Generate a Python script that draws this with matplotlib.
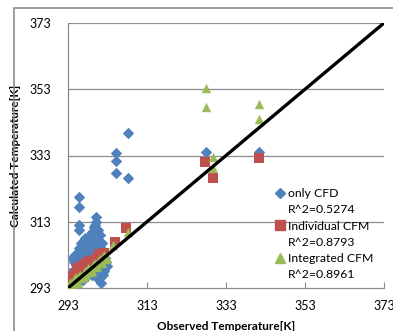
import matplotlib
matplotlib.use("Agg")
import matplotlib.pyplot as plt
from matplotlib.lines import Line2D
from matplotlib.patches import Rectangle

plt.rcParams['font.family'] = ['Lato', 'DejaVu Sans']

# ---- data ----
cfd_obs = [308.3, 305.2, 305.2, 305.2, 308.2, 295.9, 295.9, 295.9, 295.9, 295.9, 294.8,
           327.9, 341.4, 300.1, 300.1, 299.5, 299.0, 298.5, 298.0, 297.5, 297.0, 296.5,
           301.0, 301.5, 302.0, 300.5, 299.8, 298.8, 297.8, 296.8, 295.5, 295.0, 294.5,
           294.0, 293.5, 301.3, 300.3, 299.5, 298.2, 297.2, 296.2, 302.5, 300.8, 299.2,
           297.6, 296.0, 294.3, 295.3, 300.0, 301.8,
           299.8, 300.6, 299.3, 298.6, 298.0, 297.4, 296.9, 296.3, 295.7, 295.2, 294.6,
           294.1, 293.6, 301.2, 302.3, 301.6, 300.9, 300.2, 299.6, 298.9, 298.3, 297.7,
           297.1, 296.6, 295.9, 295.4, 294.9, 294.4, 302.8, 301.9, 300.4, 299.1, 297.9,
           296.7, 295.6, 294.2, 293.8, 302.0, 300.7, 299.9]
cfd_calc = [339.9, 333.7, 331.3, 327.7, 326.2, 320.6, 317.5, 312.0, 310.5, 305.1, 303.0,
            334.2, 334.2, 314.5, 313.0, 311.5, 310.0, 308.5, 307.5, 306.5, 305.0, 303.5,
            309.0, 306.5, 304.0, 304.0, 302.5, 304.5, 303.0, 301.5, 300.0, 298.5, 297.0,
            295.5, 294.0, 294.4, 296.0, 299.0, 300.0, 298.5, 297.5, 301.0, 300.5, 302.0,
            301.0, 296.0, 295.0, 296.5, 307.0, 303.0,
            312.0, 310.5, 309.5, 309.0, 306.0, 308.0, 304.0, 306.5, 302.5, 303.5, 301.0,
            302.0, 297.5, 305.5, 302.0, 300.0, 301.5, 298.0, 305.0, 303.0, 301.5, 304.5,
            302.0, 300.5, 303.0, 301.0, 300.0, 298.5, 299.5, 297.0, 297.5, 297.0, 296.5,
            295.5, 294.5, 293.5, 296.5, 298.0, 299.0, 307.0]

ind_obs = [293.1, 293.5, 294.0, 294.5, 295.2, 296.0, 297.0, 298.0, 298.6, 299.5, 300.5,
           301.5, 302.2, 304.9, 307.6, 327.7, 329.8, 341.4, 293.3, 294.8, 296.5, 297.8,
           295.6, 296.8, 297.5, 298.3, 299.0, 299.8, 300.9, 301.8, 293.7, 294.3]
ind_calc = [294.5, 295.5, 296.0, 297.0, 299.0, 298.5, 299.5, 299.0, 300.0, 301.5, 302.0,
            303.0, 303.5, 307.0, 311.0, 331.1, 326.1, 332.2, 293.5, 296.5, 297.5, 300.8,
            297.8, 299.8, 298.8, 300.5, 301.2, 300.8, 303.2, 302.2, 295.0, 296.4]

int_obs = [293.2, 293.8, 294.3, 294.8, 295.3, 295.8, 296.4, 297.0, 297.6, 298.2, 298.8,
           299.4, 300.0, 300.6, 301.2, 301.8, 302.4, 304.5, 308.3, 327.9, 327.9, 341.4,
           341.4, 329.8, 329.8, 294.0, 295.5, 297.0, 298.5, 300.0,
           293.5, 294.6, 295.0, 296.0, 296.8, 297.3, 298.0, 299.0, 299.8, 300.3, 301.0,
           301.5, 302.0, 302.8]
int_calc = [293.5, 294.5, 294.0, 295.5, 295.0, 296.5, 296.0, 297.5, 297.0, 298.8, 298.3,
            300.0, 299.5, 301.2, 300.8, 302.5, 301.8, 306.0, 310.0, 353.3, 347.6, 348.5,
            343.9, 332.5, 329.2, 293.2, 294.6, 296.2, 297.8, 299.2,
            294.6, 295.6, 296.2, 297.0, 296.2, 298.2, 299.0, 298.0, 300.6, 299.6, 301.8,
            300.6, 303.0, 302.2]

ticks = [293, 313, 333, 353, 373]
series_labels = ["only CFD", "Individual CFM", "Integrated CFM"]
r2_labels = ["R^2=0.5274", "R^2=0.8793", "R^2=0.8961"]

blue = '#4F81BD'
red = '#C0504D'
green = '#9BBB59'

fig = plt.figure(figsize=(3.93, 3.31), dpi=100)
fig.patch.set_facecolor('white')

# outer chart frame (Excel chart area border)
fig.add_artist(Rectangle((13.5 / 393, -0.05), 1.2, 1 - 7.5 / 331 + 0.05,
                         transform=fig.transFigure, fill=False,
                         edgecolor='#8c8c8c', linewidth=1.2))

ax = fig.add_axes([68 / 393, 1 - 288 / 331, (384 - 68) / 393, (288 - 23) / 331])
ax.set_xlim(293, 373)
ax.set_ylim(293, 373)

for t in ticks[1:]:
    ax.axhline(t, color='#8c8c8c', linewidth=0.9, zorder=0)

ax.scatter(cfd_obs, cfd_calc, marker='D', s=34, color=blue, linewidths=0, zorder=2)
ax.scatter(ind_obs, ind_calc, marker='s', s=46, color=red, linewidths=0, zorder=3)
ax.scatter(int_obs, int_calc, marker='^', s=46, color=green, linewidths=0, zorder=4)
ax.plot([293, 373], [293, 373], color='black', linewidth=2.4, zorder=5)

for s in ['top', 'right']:
    ax.spines[s].set_visible(False)
ax.spines['left'].set_color('#8c8c8c')
ax.spines['bottom'].set_color('#8c8c8c')
ax.spines['left'].set_linewidth(0.9)
ax.spines['bottom'].set_linewidth(0.9)

ax.set_xticks(ticks)
ax.set_yticks(ticks)
ax.set_xticklabels([str(t) for t in ticks])
ax.set_yticklabels([str(t) for t in ticks])
ax.tick_params(axis='x', direction='in', length=4, color='#8c8c8c', labelsize=9, pad=9)
ax.tick_params(axis='y', length=0, labelsize=9, pad=12)

ax.set_xlabel('Observed Temperature[K]', fontsize=8.5, fontweight='bold', labelpad=6)
ax.set_ylabel('Calculated Temperature[K]', fontsize=8.5, fontweight='bold', labelpad=6)

handles = [
    Line2D([], [], marker='D', color=blue, linestyle='none', markersize=5),
    Line2D([], [], linestyle='none'),
    Line2D([], [], marker='s', color=red, linestyle='none', markersize=7),
    Line2D([], [], linestyle='none'),
    Line2D([], [], marker='^', color=green, linestyle='none', markersize=7),
    Line2D([], [], linestyle='none'),
]
labels = [series_labels[0], r2_labels[0], series_labels[1], r2_labels[1],
          series_labels[2], r2_labels[2]]
leg = ax.legend(handles, labels, loc='lower left', bbox_to_anchor=(0.645, 0.012),
                frameon=False, fontsize=8.8, handlelength=0.6, handletextpad=0.35,
                labelspacing=0.42, borderaxespad=0)

fig.savefig('out.png', dpi=100, facecolor='white')
